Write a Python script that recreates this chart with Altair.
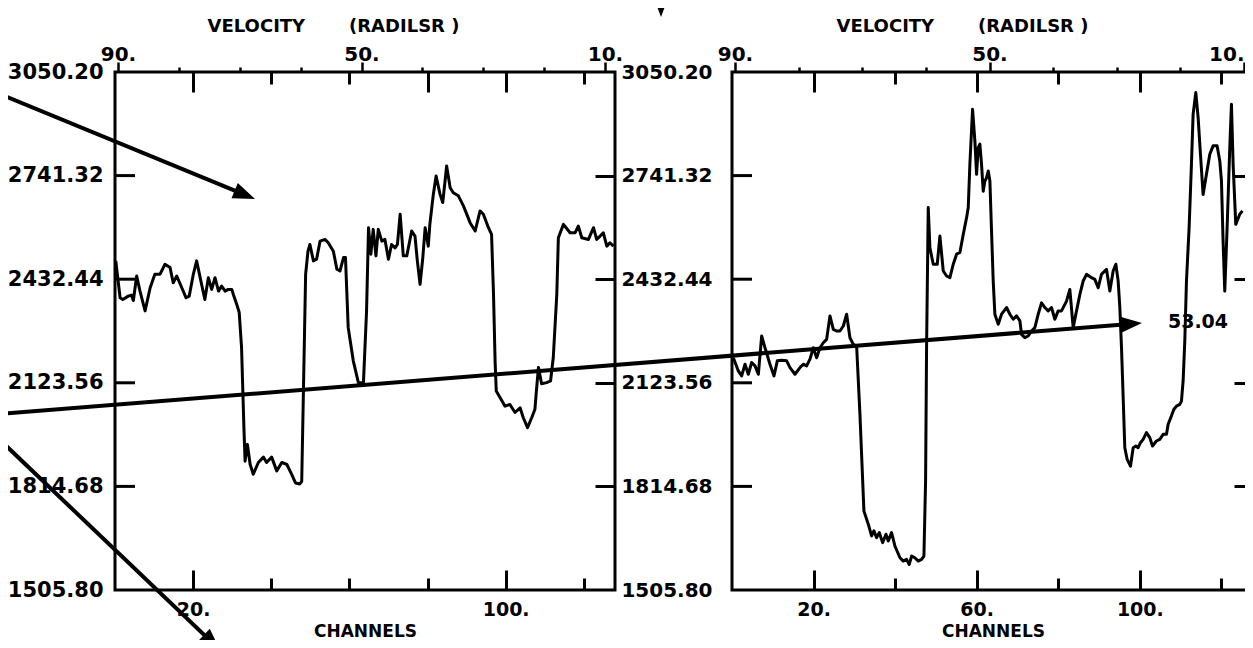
import math
import altair as alt
import pandas as pd

# ---------------- data ----------------
left_channels = [0.2, 1.3, 2.0, 3.4, 4.2, 4.7, 5.55, 6.4, 7.7, 9.0, 10.2, 11.5, 12.8, 14.1, 14.9, 15.8,
                 17.1, 18.2, 19.0, 20.05, 20.9, 21.8, 23.0, 23.9, 24.75, 25.6, 26.5, 27.3, 28.2, 29.0,
                 29.9, 30.3, 31.15, 31.8, 32.4, 32.7, 33.0, 33.3, 33.9, 34.6, 35.4, 36.7, 38.0, 38.8,
                 40.1, 41.4, 42.7, 44.0, 45.2, 46.2, 47.3, 47.8, 48.4, 48.8, 49.4, 49.9, 50.8, 51.6,
                 52.5, 53.8, 54.6, 55.9, 56.8, 57.6, 58.5, 59.0, 59.7, 61.0, 62.3, 63.6, 64.4, 64.9,
                 65.5, 66.1, 66.8, 67.4, 68.3, 69.1, 70.0, 70.8, 71.7, 72.3, 73.0, 73.8, 74.7, 75.95,
                 76.8, 77.4, 78.1, 78.8, 79.4, 80.2, 80.6, 81.5, 82.2, 83.2, 83.9, 84.9, 85.8, 86.6,
                 87.9, 89.2, 90.9, 92.2, 93.45, 94.3, 95.6, 96.4, 96.9, 97.3, 97.6, 98.6, 99.85, 101.1,
                 102.4, 103.7, 104.5, 105.6, 106.7, 107.5, 107.95, 108.4, 109.2, 110.5, 111.5, 112.2,
                 113.1, 113.5, 114.8, 116.5, 117.8, 118.6, 119.5, 121.2, 122.5, 123.3, 124.2, 125.0,
                 125.9, 126.7, 127.6]
left_values = [2487, 2377, 2372, 2382, 2385, 2369, 2442, 2397, 2338, 2407, 2447, 2447, 2477, 2467, 2422, 2442,
               2407, 2377, 2382, 2447, 2487, 2437, 2372, 2437, 2402, 2437, 2397, 2412, 2397, 2402,
               2402, 2387, 2358, 2333, 2228, 2109, 1990, 1890, 1940, 1880, 1851, 1886, 1902, 1886,
               1902, 1861, 1886, 1880, 1851, 1825, 1822, 1830, 2200, 2447, 2516, 2536, 2487, 2492,
               2546, 2551, 2541, 2516, 2462, 2457, 2497, 2497, 2288, 2189, 2124, 2124, 2338, 2586,
               2507, 2581, 2502, 2581, 2546, 2551, 2492, 2536, 2526, 2536, 2626, 2502, 2502, 2576,
               2561, 2487, 2417, 2497, 2586, 2531, 2596, 2686, 2740, 2686, 2661, 2770, 2705, 2690,
               2681, 2651, 2601, 2576, 2636, 2626, 2586, 2566, 2387, 2189, 2099, 2079, 2054, 2059,
               2035, 2049, 2020, 1990, 2020, 2045, 2109, 2169, 2121, 2124, 2129, 2199,
               2387, 2556, 2596, 2571, 2571, 2591, 2556, 2551, 2586, 2551, 2561, 2571,
               2531, 2541, 2531]

right_channels = [0.33, 1.55, 2.37, 3.19, 4.0, 4.82, 5.64, 6.46, 7.27, 8.09, 9.31, 10.3, 11.11, 12.17,
                  13.4, 14.22, 15.44, 16.67, 17.48, 18.3, 19.12, 19.94, 20.75, 21.57, 22.39, 23.2,
                  24.02, 24.84, 25.65, 26.47, 27.29, 28.11, 28.92, 29.74, 30.56, 31.37, 32.35, 33.42,
                  34.23, 34.8, 35.46, 36.11, 36.93, 37.75, 38.32, 39.13, 39.95, 41.18, 41.99, 42.81,
                  43.46, 44.04, 44.85, 45.67, 46.49, 47.06, 47.47, 47.71, 48.12, 48.53, 49.35, 50.33,
                  50.98, 51.8, 52.62, 53.43, 54.25, 55.07, 55.88, 56.7, 57.52, 57.93, 58.33, 58.99,
                  59.56, 59.97, 60.38, 60.78, 61.19, 61.6, 62.01, 62.42, 62.83, 63.24, 63.64, 64.05,
                  64.46, 65.28, 66.1, 67.32, 68.14, 68.96, 69.77, 70.59, 71.0, 71.81, 72.63, 73.45,
                  74.27, 75.08, 75.9, 76.72, 77.53, 78.35, 79.17, 79.98, 80.8, 82.03, 82.84, 83.66,
                  84.48, 85.3, 86.11, 86.93, 88.15, 88.97, 89.79, 90.6, 91.83, 92.65, 93.46, 94.12,
                  94.69, 95.1, 95.51, 95.92, 96.32, 96.9, 97.71, 98.37, 99.02, 99.59, 100.16, 100.82,
                  101.63, 102.45, 103.1, 104.08, 104.9, 105.72, 106.54, 106.95, 107.76, 108.33,
                  108.99, 109.8, 110.21, 110.62, 111.03, 111.44, 112.09, 112.66, 113.07, 113.73,
                  114.3, 114.87, 115.52, 116.34, 117.16, 117.97, 118.95, 119.61, 120.02, 120.42,
                  120.83, 121.41, 122.06, 122.47, 122.88, 123.53, 124.51, 125.16]
right_values = [2198, 2159, 2144, 2179, 2149, 2184, 2174, 2149, 2263, 2228, 2179, 2144, 2189, 2191,
                2189, 2169, 2149, 2169, 2179, 2174, 2194, 2228, 2198, 2228, 2243, 2253,
                2323, 2283, 2278, 2278, 2293, 2328, 2258, 2238, 2233, 2030, 1741, 1702,
                1667, 1682, 1662, 1677, 1647, 1672, 1652, 1677, 1637, 1602, 1592, 1597,
                1582, 1607, 1602, 1592, 1597, 1607, 1831, 2228, 2646, 2526, 2477, 2477,
                2561, 2457, 2442, 2437, 2477, 2507, 2512, 2566, 2616, 2646, 2775, 2939,
                2844, 2745, 2825, 2835, 2775, 2695, 2725, 2735, 2755, 2725, 2576, 2427,
                2328, 2298, 2328, 2348, 2328, 2313, 2323, 2308, 2268, 2258, 2263, 2278,
                2288, 2328, 2362, 2348, 2338, 2348, 2313, 2338, 2338, 2367, 2402, 2288,
                2338, 2387, 2427, 2447, 2437, 2432, 2407, 2447, 2462, 2397, 2457, 2477,
                2427, 2348, 2228, 2079, 1930, 1895, 1875, 1930, 1935, 1930, 1945, 1955,
                1975, 1960, 1935, 1950, 1955, 1970, 1970, 2000, 2025, 2044,
                2054, 2059, 2069, 2129, 2248, 2427, 2586, 2775, 2924, 2989,
                2914, 2805, 2685, 2745, 2805, 2830, 2830, 2785, 2725, 2546,
                2397, 2586, 2825, 2954, 2775, 2596, 2626, 2636]

y_tick_values = [1505.80, 1814.68, 2123.56, 2432.44, 2741.32, 3050.20]
channel_ticks = [20, 40, 60, 80, 100, 120]
channel_min, channel_max = 0, 128
velocity_major = [90, 50, 10]
velocity_minor = [80, 70, 60, 40, 30, 20]
left_channel_labels = [20, 100]
right_channel_labels = [20, 60, 100]
left_top_long = [20, 80, 100]
right_top_long = [20, 60, 100]
velocity_title = "VELOCITY\u00a0\u00a0\u00a0\u00a0\u00a0\u00a0\u00a0(RADILSR )"
channel_title = "CHANNELS"
arrow_label = "53.04"

# ---------------- layout (pixels) ----------------
W, H = 1237, 632
YT, YB = 64, 582
FONT = "DejaVu Sans"
YTICK = 20

panels = [
    dict(ch=left_channels, val=left_values, x0=107, x1=607, v90=110, v10=597, title_x=325,
         pad=12, ysize=21, labels=left_channel_labels, top_long=left_top_long, last_align="center"),
    dict(ch=right_channels, val=right_values, x0=724, x1=1246, v90=727, v10=1236, title_x=954,
         pad=20, ysize=20, labels=right_channel_labels, top_long=right_top_long, last_align="right"),
]


def chan_scale(p):
    return alt.Scale(domain=[channel_min, channel_max], range=[p["x0"], p["x1"]], nice=False, zero=False)


def val_scale():
    return alt.Scale(domain=[y_tick_values[0], y_tick_values[-1]], range=[YB, YT], nice=False, zero=False)


def vel_scale(p):
    return alt.Scale(domain=[90, 10], range=[p["v90"], p["v10"]], nice=False, zero=False)


def tick_axis(orient, offset, values, size, width=3):
    return alt.Axis(orient=orient, offset=offset, values=values, tickSize=size, tickWidth=width,
                    tickColor="black", ticks=True, labels=False, domain=False, grid=False, title=None)


frame_df = pd.DataFrame({"c0": [channel_min], "c1": [channel_max],
                         "v0": [y_tick_values[0]], "v1": [y_tick_values[-1]]})

layers = []
for p in panels:
    line_df = pd.DataFrame({"ch": p["ch"], "val": p["val"], "i": range(len(p["ch"]))})
    short_bottom = [t for t in channel_ticks if t not in p["labels"]]
    short_top = [t for t in channel_ticks if t not in p["top_long"]]
    tick_len_ch = YTICK * (channel_max - channel_min) / (p["x1"] - p["x0"])

    line = alt.Chart(line_df).mark_line(color="black", strokeWidth=3, strokeJoin="round").encode(
        x=alt.X("ch:Q", scale=chan_scale(p), axis=alt.Axis(
            orient="bottom", offset=YB - H, values=p["labels"], labelExpr="datum.value + '.'",
            ticks=False, tickSize=0, domain=False, grid=False, labelFont=FONT, labelFontSize=19,
            labelFontWeight="bold", labelColor="black", labelPadding=25, labelBaseline="alphabetic",
            labelFlush=False, labelOverlap=False, title=channel_title, titleFont=FONT,
            titleFontSize=17, titleFontWeight="bold", titleColor="black", titleY=50,
            titleBaseline="bottom")),
        y=alt.Y("val:Q", scale=val_scale(), axis=alt.Axis(
            orient="left", offset=-p["x0"], values=y_tick_values, format=".2f", ticks=False,
            tickSize=0, domain=False, grid=False, labelFont=FONT, labelFontSize=p["ysize"],
            labelFontWeight="bold", labelColor="black", labelPadding=p["pad"], labelFlush=False,
            labelOverlap=False, title=None)),
        order="i:Q",
    )
    # frame and bottom inward long ticks
    frame = alt.Chart(frame_df).mark_rect(fillOpacity=0, stroke="black", strokeWidth=3).encode(
        x=alt.X("c0:Q", scale=chan_scale(p), axis=tick_axis("top", -YB, p["labels"], 20)),
        x2="c1:Q",
        y=alt.Y("v0:Q", scale=val_scale(), axis=None),
        y2="v1:Q",
    )
    # inward ticks on the left side of the frame
    left_ticks = alt.Chart(pd.DataFrame({"v": y_tick_values[1:-1]})).transform_calculate(
        c0="%f" % channel_min, c1="%f" % (channel_min + tick_len_ch)
    ).mark_rule(color="black", strokeWidth=3).encode(
        x=alt.X("c0:Q", scale=chan_scale(p), axis=None),
        x2="c1:Q",
        y=alt.Y("v:Q", scale=val_scale(), axis=None),
    )
    # bottom inward short ticks, inward ticks on the right side of the frame
    hidden1 = alt.Chart(frame_df).mark_rect(opacity=0).encode(
        x=alt.X("c0:Q", scale=chan_scale(p), axis=tick_axis("top", -YB, short_bottom, 12)),
        x2="c1:Q",
        y=alt.Y("v0:Q", scale=val_scale(), axis=tick_axis("left", -p["x1"], y_tick_values[1:-1], YTICK)),
        y2="v1:Q",
    )
    hidden2 = alt.Chart(frame_df).mark_rect(opacity=0).encode(
        x=alt.X("c0:Q", scale=chan_scale(p), axis=tick_axis("bottom", YT - H, p["top_long"], 20)),
        x2="c1:Q",
    )
    hidden3 = alt.Chart(frame_df).mark_rect(opacity=0).encode(
        x=alt.X("c0:Q", scale=chan_scale(p), axis=tick_axis("bottom", YT - H, short_top, 12)),
        x2="c1:Q",
    )
    vel_major = alt.Chart(pd.DataFrame({"v": velocity_major})).mark_point(opacity=0).encode(
        x=alt.X("v:Q", scale=vel_scale(p), axis=alt.Axis(
            orient="top", offset=-YT, values=velocity_major, tickSize=10, tickWidth=2.5,
            tickColor="black", domain=False, grid=False, labelExpr="datum.value + '.'",
            labelAlign={"expr": "datum.value == 10 ? '%s' : 'center'" % p["last_align"]},
            labelFont=FONT, labelFontSize=20, labelFontWeight="bold", labelColor="black",
            labelPadding=2, labelBaseline="alphabetic", labelFlush=False, labelOverlap=False,
            title=velocity_title, titleFont=FONT, titleFontSize=18, titleFontWeight="bold",
            titleColor="black", titleX=p["title_x"], titleY=-41, titleAlign="center",
            titleBaseline="alphabetic")),
    )
    vel_minor = alt.Chart(pd.DataFrame({"v": velocity_minor})).mark_point(opacity=0).encode(
        x=alt.X("v:Q", scale=vel_scale(p), axis=tick_axis("top", -YT, velocity_minor, 5, 2.5)),
    )
    layers += [line, frame, left_ticks, hidden1, hidden2, hidden3, vel_major, vel_minor]

# ---------------- annotation arrows (page pixel coordinates) ----------------
arrow_tail = [(0, 94), (0, 414), (0, 440)]
arrow_tip = [(255, 199), (1142, 323), (220, 650)]
head_len = 22
rules, heads = [], []
for (x0, y0), (x1, y1) in zip(arrow_tail, arrow_tip):
    d = math.hypot(x1 - x0, y1 - y0)
    ux, uy = (x1 - x0) / d, (y1 - y0) / d
    rules.append({"x": x0, "y": y0, "x2": x1 - ux * 12, "y2": y1 - uy * 12})
    heads.append({"x": x1, "y": y1, "ang": math.degrees(math.atan2(uy, ux)) % 360,
                  "sz": (head_len / 2) ** 2 * 4})
heads.append({"x": 661, "y": 17, "ang": 90, "sz": 144})

ax = alt.Scale(domain=[8, 8 + W], range=[0, W], nice=False, zero=False)
ay = alt.Scale(domain=[8, 8 + H], range=[0, H], nice=False, zero=False)
arrow_path = "M0,0 L-2,-0.75 L-2,0.75 Z"

rule_layer = alt.Chart(pd.DataFrame(rules)).mark_rule(color="black", strokeWidth=4).encode(
    x=alt.X("x:Q", scale=ax, axis=None), y=alt.Y("y:Q", scale=ay, axis=None), x2="x2:Q", y2="y2:Q")
head_layer = alt.Chart(pd.DataFrame(heads)).mark_point(
    shape=arrow_path, filled=True, color="black", opacity=1, strokeWidth=0).encode(
    x=alt.X("x:Q", scale=ax, axis=None), y=alt.Y("y:Q", scale=ay, axis=None),
    angle=alt.Angle("ang:Q", scale=None), size=alt.Size("sz:Q", scale=None))
label_layer = alt.Chart(pd.DataFrame({"x": [1198], "y": [322], "t": [arrow_label]})).mark_text(
    font=FONT, fontSize=19, fontWeight="bold", color="black", align="center", baseline="middle").encode(
    x=alt.X("x:Q", scale=ax, axis=None), y=alt.Y("y:Q", scale=ay, axis=None), text="t:N")

layers += [rule_layer, head_layer, label_layer]

chart = alt.layer(*layers).resolve_scale(x="independent", y="independent").properties(
    width=W, height=H, autosize=alt.AutoSizeParams(type="none"), padding=0, background="white"
).configure_view(strokeWidth=0)

chart.save("out.html", embed_options={"renderer": "svg", "actions": False})
